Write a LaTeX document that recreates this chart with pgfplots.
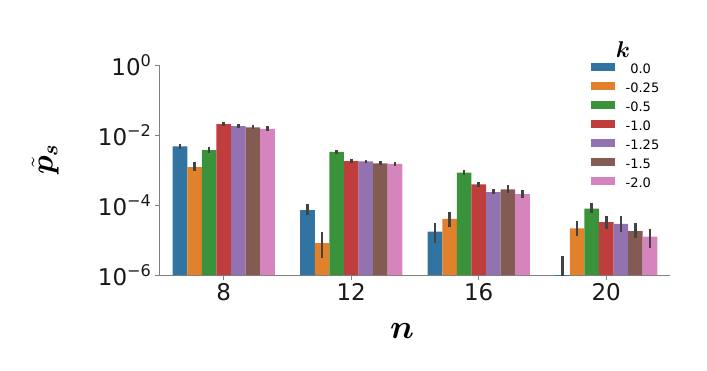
\documentclass[border=0pt]{standalone}
\usepackage{pgfplots}
\usepackage{pgfplotstable}
\usepackage{amsmath,bm}
\usepackage{fontspec}
\setmainfont{DejaVu Sans}
\pgfplotsset{compat=1.18}

\definecolor{cblue}{HTML}{3274A1}
\definecolor{corange}{HTML}{E1812C}
\definecolor{cgreen}{HTML}{3A923A}
\definecolor{cred}{HTML}{C03D3E}
\definecolor{cpurple}{HTML}{9372B2}
\definecolor{cbrown}{HTML}{845B53}
\definecolor{cpink}{HTML}{D684BD}
\definecolor{cerr}{HTML}{424242}

% x = group index (n = 8, 12, 16, 20); hi/lo = ends of the error bar
\pgfplotstableread{
x y hi lo
0 4.7e-3 5.4e-3 3.9e-3
1 7.2e-5 1.07e-4 5.1e-5
2 1.73e-5 3.1e-5 8.4e-6
3 1e-7 3.5e-6 1e-7
}\kzero
\pgfplotstableread{
x y hi lo
0 1.2e-3 1.7e-3 9.5e-4
1 8.1e-6 1.73e-5 3.0e-6
2 4.0e-5 6.3e-5 2.3e-5
3 2.15e-5 3.55e-5 1.26e-5
}\kqtr
\pgfplotstableread{
x y hi lo
0 3.7e-3 4.4e-3 3.1e-3
1 3.3e-3 3.7e-3 2.9e-3
2 8.4e-4 1.0e-3 7.2e-4
3 7.9e-5 1.12e-4 6.0e-5
}\khalf
\pgfplotstableread{
x y hi lo
0 2.06e-2 2.3e-2 1.85e-2
1 1.8e-3 2.05e-3 1.6e-3
2 3.9e-4 4.65e-4 3.2e-4
3 3.25e-5 4.9e-5 2.1e-5
}\kone
\pgfplotstableread{
x y hi lo
0 1.8e-2 2.0e-2 1.6e-2
1 1.75e-3 1.95e-3 1.55e-3
2 2.35e-4 2.8e-4 2.0e-4
3 2.9e-5 4.7e-5 1.73e-5
}\konequarter
\pgfplotstableread{
x y hi lo
0 1.66e-2 1.9e-2 1.45e-2
1 1.55e-3 1.75e-3 1.4e-3
2 2.8e-4 3.7e-4 2.25e-4
3 1.8e-5 3.1e-5 1.12e-5
}\konehalf
\pgfplotstableread{
x y hi lo
0 1.5e-2 1.75e-2 1.3e-2
1 1.5e-3 1.7e-3 1.3e-3
2 2.03e-4 2.6e-4 1.55e-4
3 1.25e-5 2.1e-5 5.8e-6
}\ktwo

\pgfplotsset{
  errbar/.style={
    error bars/.cd, y dir=both, y explicit, error mark=none,
    error bar style={line width=2.6pt, color=cerr}},
  /pgfplots/table/errcols/.style={x=x, y=y,
    y error plus expr=\thisrow{hi}-\thisrow{y},
    y error minus expr=\thisrow{y}-\thisrow{lo}},
}

\begin{document}
\begin{tikzpicture}
\path[use as bounding box] (-160pt,-95pt) rectangle (547pt,275pt);
\begin{axis}[
  scale only axis,
  width=510pt, height=210pt,
  ymode=log, log origin y=infty,
  ybar=0pt, bar width=0.1143,
  xmin=-0.5, xmax=3.5,
  ymin=1e-6, ymax=1,
  xtick={0,1,2,3}, xticklabels={8,12,16,20},
  ytick={1e-6,1e-4,1e-2,1},
  yticklabels={10\textsuperscript{−6},10\textsuperscript{−4},10\textsuperscript{−2},10\textsuperscript{0}},
  yminorticks=false,
  axis x line*=bottom, axis y line*=left,
  axis line style={-, gray, line width=1pt},
  tick style={gray, line width=1pt},
  tick align=outside, major tick length=5pt,
  ticklabel style={font=\fontsize{23}{26}\selectfont, text=black!90},
  xlabel={$\boldsymbol{n}$},
  ylabel={$\boldsymbol{\tilde{p}}_{\boldsymbol{s}}$},
  xlabel style={at={(axis description cs:0.4745,-0.267)}, anchor=center,
    font=\fontsize{24}{26}\selectfont, scale=1.35},
  ylabel style={at={(axis description cs:-0.225,0.55)}, anchor=center,
    rotate=0, font=\fontsize{24}{26}\selectfont, scale=1.25},
  legend style={at={(rel axis cs:0.845,1.01)}, anchor=north west,
    draw=none, fill=none, inner sep=0pt,
    font=\fontsize{13}{14}\selectfont,
    nodes={inner sep=0pt, text height=9pt, text depth=3pt},
    row sep=6pt, column sep=11pt},
  legend cell align=left,
  legend image code/.code={\fill[#1, draw=none] (0pt,-1pt) rectangle (23.5pt,7pt);},
]
\addplot[fill=cblue, draw=none, errbar] table[errcols]{\kzero};
\addlegendentry{\hphantom{-}0.0}
\addplot[fill=corange, draw=none, errbar] table[errcols]{\kqtr};
\addlegendentry{-0.25}
\addplot[fill=cgreen, draw=none, errbar] table[errcols]{\khalf};
\addlegendentry{-0.5}
\addplot[fill=cred, draw=none, errbar] table[errcols]{\kone};
\addlegendentry{-1.0}
\addplot[fill=cpurple, draw=none, errbar] table[errcols]{\konequarter};
\addlegendentry{-1.25}
\addplot[fill=cbrown, draw=none, errbar] table[errcols]{\konehalf};
\addlegendentry{-1.5}
\addplot[fill=cpink, draw=none, errbar] table[errcols]{\ktwo};
\addlegendentry{-2.0}
\end{axis}
\node[font=\fontsize{20}{22}\selectfont, scale=1.1] at (463pt,225pt) {$\boldsymbol{k}$};
\end{tikzpicture}
\end{document}
